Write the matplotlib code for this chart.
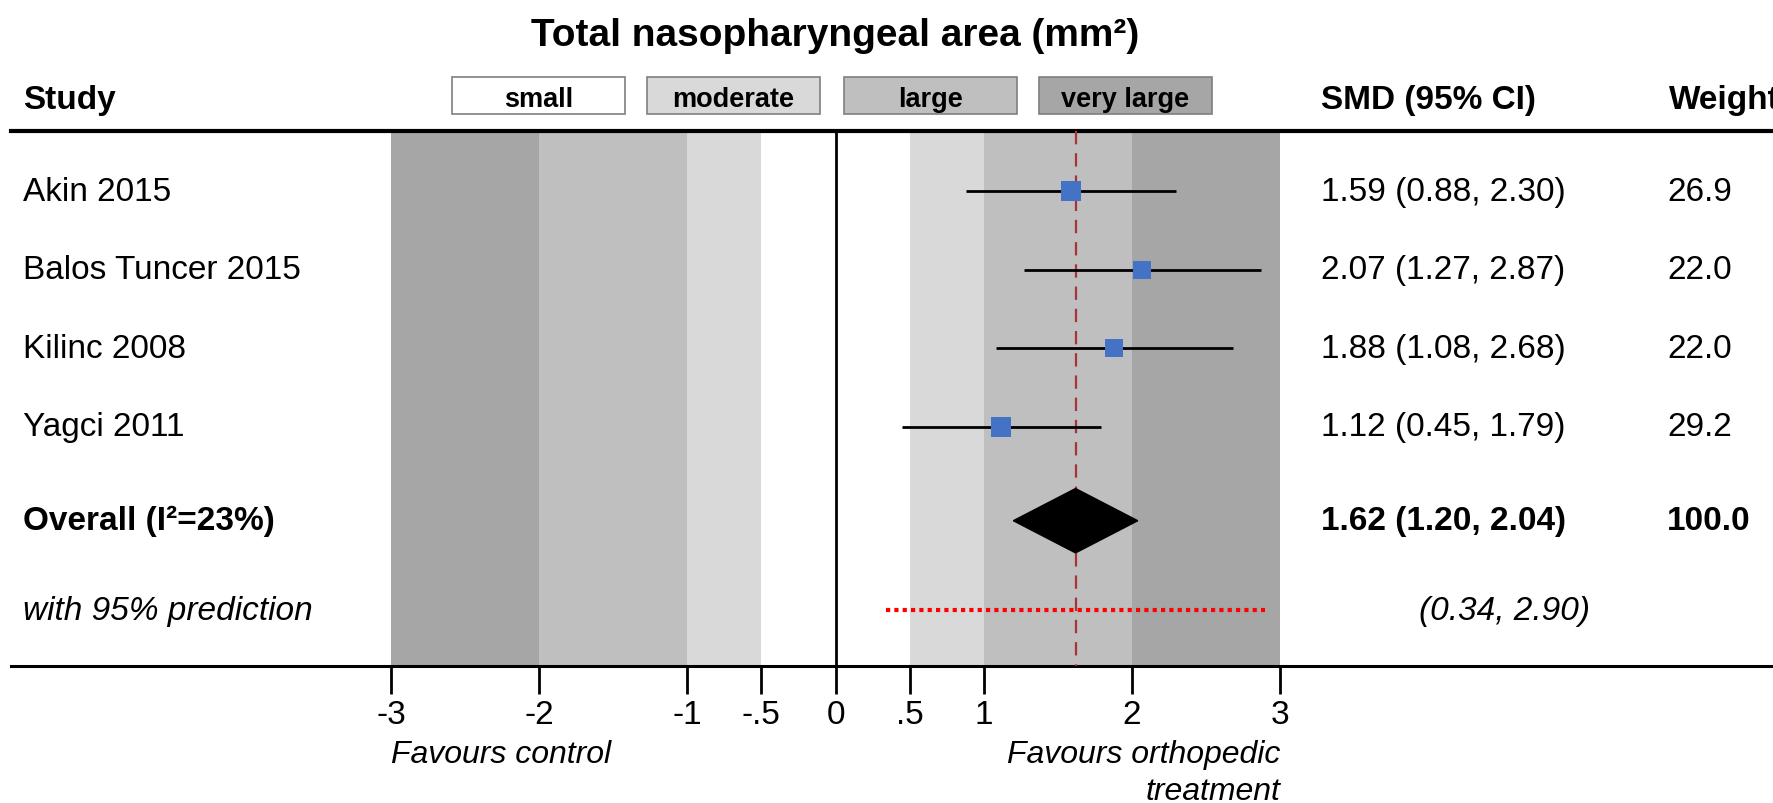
import matplotlib
matplotlib.use("Agg")
import matplotlib.pyplot as plt
from matplotlib.patches import Polygon, Rectangle
from matplotlib import transforms

plt.rcParams['font.family'] = ['Liberation Sans', 'DejaVu Sans']

# study data
studies = ["Akin 2015", "Balos Tuncer 2015", "Kilinc 2008", "Yagci 2011"]
smd = [1.59, 2.07, 1.88, 1.12]
ci_lo = [0.88, 1.27, 1.08, 0.45]
ci_hi = [2.30, 2.87, 2.68, 1.79]
weights = [26.9, 22.0, 22.0, 29.2]

overall = 1.62
overall_lo = 1.20
overall_hi = 2.04
overall_weight = 100.0
overall_label = "Overall (I²=23%)"
pred_lo = 0.34
pred_hi = 2.90

# effect size bands (edge, colour)
band_edges = [-3, -2, -1, -0.5, 0, 0.5, 1, 2, 3]
band_colors = ['#a6a6a6', '#bfbfbf', '#d9d9d9', '#ffffff',
               '#ffffff', '#d9d9d9', '#bfbfbf', '#a6a6a6']
legend_names = ["small", "moderate", "large", "very large"]
legend_colors = ['#ffffff', '#d9d9d9', '#bfbfbf', '#a6a6a6']

tick_vals = [-3, -2, -1, -0.5, 0, 0.5, 1, 2, 3]
tick_labels = ["-3", "-2", "-1", "-.5", "0", ".5", "1", "2", "3"]

W, H = 1774, 804
fig = plt.figure(figsize=(W / 100, H / 100), dpi=100)
ax = fig.add_axes([0, 0, 1, 1])
ax.axis('off')
ax.set_xlim(-5.639, 6.334)
ax.set_ylim(7.796, -2.446)

# row layout (in row units)
rows = [0, 1, 2, 3]
y_overall = 4.2
y_pred = 5.34
y_top = -0.764
y_bot = 6.057
y_head = -1.16
y_title = -1.99

fs = 24
col = transforms.blended_transform_factory(fig.transFigure, ax.transData)

# shaded bands
for i in range(len(band_colors)):
    ax.fill_between([band_edges[i], band_edges[i + 1]], y_top, y_bot,
                    color=band_colors[i], lw=0, zorder=1)

# frame lines
ax.axhline(y_top, xmin=11 / W, xmax=1, color='black', lw=3, zorder=3)
ax.axhline(y_bot, xmin=11 / W, xmax=1, color='black', lw=2.2, zorder=3)
ax.vlines(0, y_top, y_bot, color='black', lw=2, zorder=3)
ax.vlines(overall, y_top, y_bot, color='#a8323a', lw=1.6,
          linestyles=(0, (6, 4)), zorder=3)

# ticks and labels
ax.vlines(tick_vals, y_bot, y_bot + 0.35, color='black', lw=2, zorder=3)
for v, t in zip(tick_vals, tick_labels):
    ax.text(v, y_bot + 0.61, t, ha='center', va='center', fontsize=fs)
ax.text(-3, y_bot + 1.11, "Favours control", ha='left', va='center',
        fontsize=23, style='italic')
ax.text(3, y_bot + 1.11, "Favours orthopedic", ha='right', va='center',
        fontsize=23, style='italic')
ax.text(3, y_bot + 1.59, "treatment", ha='right', va='center',
        fontsize=23, style='italic')

# studies
for y, name, m, lo, hi, w in zip(rows, studies, smd, ci_lo, ci_hi, weights):
    ax.hlines(y, lo, hi, color='black', lw=2, zorder=4)
    ax.plot(m, y, 's', color='#4472c4', markersize=2.75 * w ** 0.5,
            markeredgewidth=0, zorder=5)
    ax.text(23 / W, y, name, transform=col, ha='left', va='center', fontsize=fs)
    ax.text(1321 / W, y, f"{m:.2f} ({lo:.2f}, {hi:.2f})", transform=col,
            ha='left', va='center', fontsize=fs)
    ax.text(1667 / W, y, f"{w:.1f}", transform=col, ha='left', va='center',
            fontsize=fs)

# overall diamond
dh = 0.41
ax.add_patch(Polygon([(overall_lo, y_overall), (overall, y_overall - dh),
                      (overall_hi, y_overall), (overall, y_overall + dh)],
                     closed=True, color='black', zorder=5))
ax.text(23 / W, y_overall, overall_label, transform=col, ha='left',
        va='center', fontsize=fs, fontweight='bold')
ax.text(1321 / W, y_overall,
        f"{overall:.2f} ({overall_lo:.2f}, {overall_hi:.2f})", transform=col,
        ha='left', va='center', fontsize=fs, fontweight='bold')
ax.text(1667 / W, y_overall, f"{overall_weight:.1f}", transform=col, ha='left',
        va='center', fontsize=fs, fontweight='bold')

# prediction interval
ax.hlines(y_pred, pred_lo, pred_hi, color='#ff0000', lw=3,
          linestyles=(0, (1, 1)), zorder=5)
ax.text(23 / W, y_pred, "with 95% prediction", transform=col, ha='left',
        va='center', fontsize=fs, style='italic')
ax.text(1419 / W, y_pred, f"({pred_lo:.2f}, {pred_hi:.2f})", transform=col,
        ha='left', va='center', fontsize=fs, style='italic')

# headers
ax.text(0, y_title, "Total nasopharyngeal area (mm²)", ha='center',
        va='center', fontsize=28, fontweight='bold')
ax.text(23 / W, y_head, "Study", transform=col, ha='left', va='center',
        fontsize=fs, fontweight='bold')
ax.text(1321 / W, y_head, "SMD (95% CI)", transform=col, ha='left',
        va='center', fontsize=fs, fontweight='bold')
ax.text(1669 / W, y_head, "Weight", transform=col, ha='left', va='center',
        fontsize=fs, fontweight='bold')

# effect size legend boxes
box_x = [452, 647, 844, 1039]
for bx, name, c in zip(box_x, legend_names, legend_colors):
    fig.patches.append(Rectangle((bx / W, 1 - 115 / H), 173 / W, 37 / H,
                                 transform=fig.transFigure, facecolor=c,
                                 edgecolor='#7f7f7f', lw=1.2))
    fig.text((bx + 86.5) / W, 1 - 100 / H, name, ha='center', va='center',
             fontsize=19.5, fontweight='bold')

fig.savefig("out.png", dpi=100)
